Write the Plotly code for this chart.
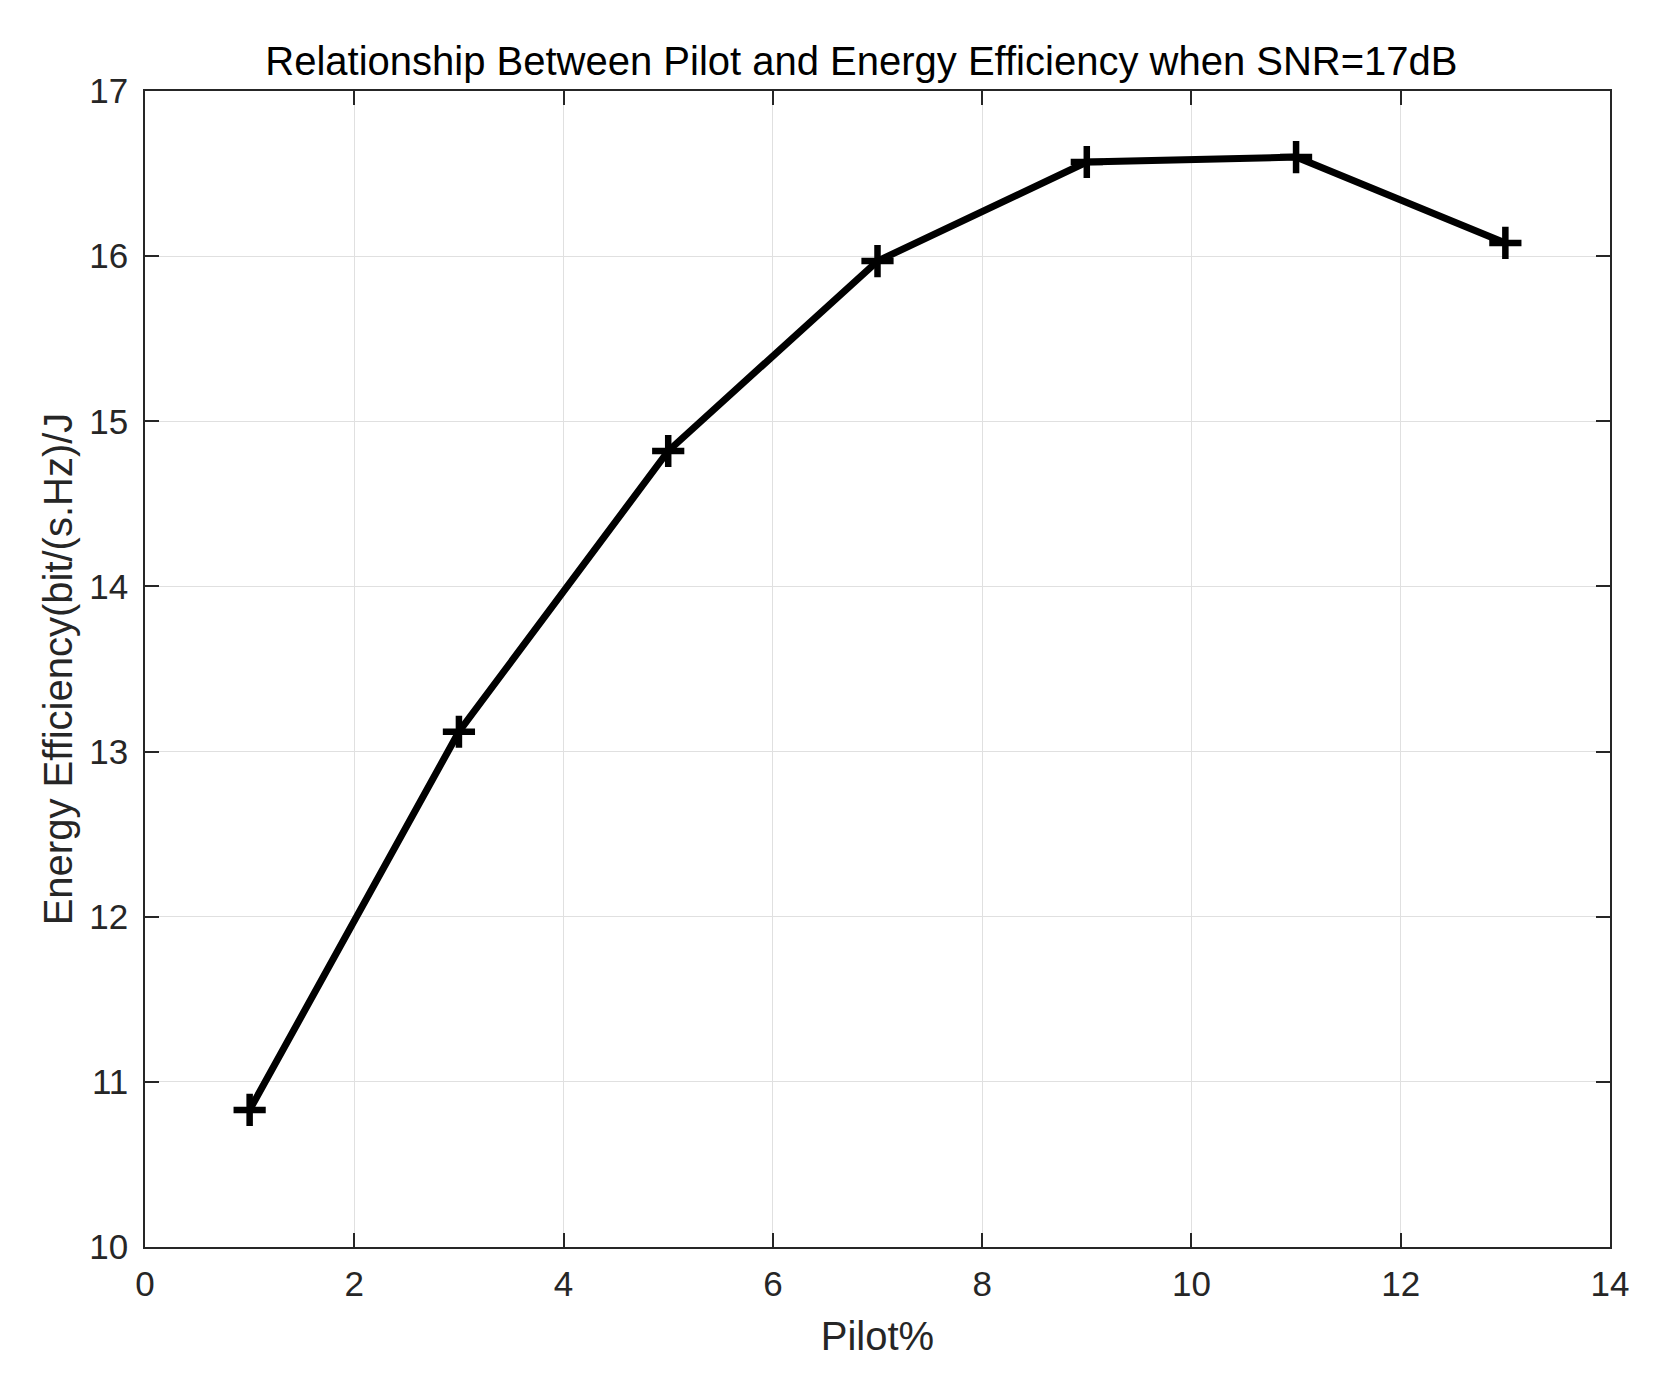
import plotly.graph_objects as go

pilot = [1, 3, 5, 7, 9, 11, 13]
energy_eff = [10.83, 13.12, 14.82, 15.97, 16.57, 16.60, 16.08]

x_ticks = [0, 2, 4, 6, 8, 10, 12, 14]
y_ticks = [10, 11, 12, 13, 14, 15, 16, 17]

title_text = "Relationship Between Pilot and Energy Efficiency when SNR=17dB"
x_title = "Pilot%"
y_title = "Energy Efficiency(bit/(s.Hz)/J"

FONT = "Liberation Sans, Arial, Helvetica, sans-serif"
DARK = "#262626"

fig = go.Figure()
fig.add_trace(go.Scatter(
    x=pilot, y=energy_eff, mode="lines+markers",
    line=dict(color="black", width=7),
    marker=dict(symbol="cross-thin", size=23, line=dict(color="black", width=6.5)),
    showlegend=False,
))

axis_common = dict(
    showline=True, linecolor=DARK, linewidth=1.5, mirror="ticks",
    ticks="inside", ticklen=14, tickwidth=1.5, tickcolor=DARK,
    showgrid=True, gridcolor="#e0e0e0", gridwidth=1,
    zeroline=False, automargin=False,
    tickfont=dict(family=FONT, size=35, color=DARK),
)

fig.update_xaxes(
    range=[0, 14], tickvals=x_ticks, ticktext=[str(v) for v in x_ticks],
    title=dict(text=x_title, font=dict(family=FONT, size=40, color=DARK), standoff=20),
    ticklabelstandoff=5,
    **axis_common,
)
fig.update_yaxes(
    range=[10, 17], tickvals=y_ticks, ticktext=[str(v) for v in y_ticks],
    title=dict(text=y_title, font=dict(family=FONT, size=40, color=DARK), standoff=4),
    ticklabelstandoff=8,
    **axis_common,
)

fig.update_layout(
    width=1660, height=1378,
    margin=dict(l=137, r=58, t=83, b=139),
    paper_bgcolor="white", plot_bgcolor="white",
    title=dict(text=title_text, x=0.489, xref="paper", xanchor="center",
               y=1 - 53 / 1378, yref="container", yanchor="middle",
               font=dict(family=FONT, size=40, color="black")),
)

fig.write_html("out.html")
